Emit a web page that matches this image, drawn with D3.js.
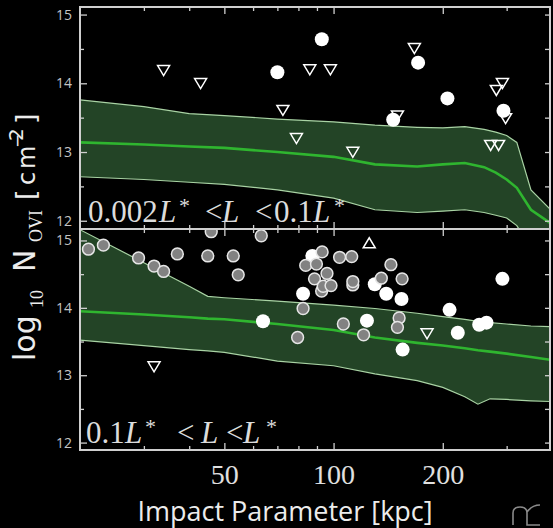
<!DOCTYPE html>
<html>
<head>
<meta charset="utf-8">
<script src="https://cdn.jsdelivr.net/npm/d3@7"></script>
<style>
    html, body { margin: 0; padding: 0; background: #000; }
    svg { display: block; }
</style>
</head>
<body>
<svg id="chart" width="553" height="528"></svg>
<script>
// impact parameter ticks (kpc)
const majorTicks = [50, 100, 200];
const minorTicks = [30, 40, 60, 70, 80, 90, 300];

// model band, 0.002L* < L < 0.1L*
const topBandKpc = [20, 30, 40, 50, 70, 100, 130, 170, 200, 230, 260, 280, 300, 320, 350, 395];
const topUpper  = [13.76, 13.66, 13.56, 13.53, 13.48, 13.44, 13.39, 13.36, 13.35, 13.37, 13.33, 13.29, 13.24, 13.14, 12.45, 12.17];
const topMedian = [13.14, 13.11, 13.08, 13.06, 13.00, 12.93, 12.82, 12.79, 12.82, 12.84, 12.78, 12.70, 12.60, 12.48, 12.16, 11.97];
const topLower  = [12.64, 12.60, 12.56, 12.53, 12.45, 12.33, 12.16, 12.12, 12.14, 12.16, 12.12, 12.08, 12.04, 11.93, 11.60, 11.30];

// model band, 0.1L* < L < L*
const botBandKpc = [20, 30, 40, 45, 50, 70, 100, 130, 170, 200, 230, 250, 270, 300, 350, 395];
const botUpper  = [15.16, 14.67, 14.32, 14.17, 14.15, 14.10, 14.04, 13.99, 13.92, 13.87, 13.83, 13.80, 13.78, 13.76, 13.73, 13.72];
const botMedian = [13.95, 13.90, 13.86, 13.84, 13.83, 13.76, 13.67, 13.56, 13.48, 13.44, 13.40, 13.37, 13.35, 13.32, 13.27, 13.23];
const botLower  = [13.52, 13.44, 13.38, 13.36, 13.34, 13.21, 13.14, 13.02, 12.92, 12.82, 12.68, 12.57, 12.65, 12.64, 12.62, 12.61];

// observations, top panel
const topDetKpc = [70, 92.8, 171, 146, 206, 294];
const topDetN   = [14.16, 14.64, 14.30, 13.47, 13.78, 13.60];
const topUlKpc  = [34, 43, 72.5, 86, 98, 79, 113, 167, 150, 292, 281, 298, 271, 285];
const topUlN    = [14.20, 14.01, 13.62, 14.21, 14.21, 13.21, 13.01, 14.52, 13.54, 14.01, 13.91, 13.50, 13.11, 13.11];

// observations, bottom panel
const botWhiteKpc = [87.4, 82.4, 129.9, 139.7, 153.9, 123.6, 208.8, 220, 252, 264, 292, 155, 63.9];
const botWhiteN   = [14.77, 14.21, 14.35, 14.21, 14.13, 13.81, 13.97, 13.63, 13.75, 13.78, 14.43, 13.38, 13.80];
const botGrayKpc = [21.1, 23.2, 29.0, 32.0, 34.0, 37.1, 46.0, 45.0, 52.9, 54.6, 63.2, 93.0, 83.8, 89.7, 88.6, 95.9,
                    92.7, 93.6, 98.4, 103.9, 112.2, 113, 113, 135.4, 143.9, 154.5, 82.4, 79.6, 106.4, 121, 151.6, 150];
const botGrayN   = [14.87, 14.93, 14.74, 14.62, 14.54, 14.80, 15.13, 14.77, 14.77, 14.49, 15.07, 14.83, 14.63, 14.65, 14.43, 14.51,
                    14.25, 14.32, 14.33, 14.75, 14.76, 14.34, 14.39, 14.44, 14.64, 14.43, 13.99, 13.56, 13.76, 13.60, 13.85, 13.71];
const botLlKpc = [125.4];
const botLlN   = [14.95];
const botUlKpc = [32, 181];
const botUlN   = [13.14, 13.63];

const zip = (a, b) => a.map((v, i) => ({b: v, n: b[i]}));

const svg = d3.select("#chart");
const left = 80, right = 550;

const x = d3.scaleLog().domain([20, 395]).range([left, right]);

// label pieces: text, x position, kind (i = italic L, s = superscript star)
const panels = [
    {
        id: "top", y0: 7, y1: 229, dom: [11.88, 15.11],
        band: {kpc: topBandKpc, up: topUpper, med: topMedian, lo: topLower},
        white: zip(topDetKpc, topDetN), gray: [],
        ul: zip(topUlKpc, topUlN), ll: [],
        label: [["0.002", 88, ""], ["L", 159, "i"], ["*", 179, "s"], ["<", 205, ""], ["L", 222, "i"],
                ["<", 255, ""], ["0.1", 274, ""], ["L", 313, "i"], ["*", 334, "s"]]
    },
    {
        id: "bot", y0: 229, y1: 450, dom: [11.89, 15.17],
        band: {kpc: botBandKpc, up: botUpper, med: botMedian, lo: botLower},
        white: zip(botWhiteKpc, botWhiteN), gray: zip(botGrayKpc, botGrayN),
        ul: zip(botUlKpc, botUlN), ll: zip(botLlKpc, botLlN),
        label: [["0.1", 86, ""], ["L", 125, "i"], ["*", 145, "s"], ["<", 177, ""], ["L", 201, "i"],
                ["<", 226, ""], ["L", 243, "i"], ["*", 266, "s"]]
    }
];

const axisColor = "#cfcfcf";
const triDown = "M-6,-4L6,-4L0,6Z";
const triUp = "M-6,4L6,4L0,-6Z";

panels.forEach(p => {
    const y = d3.scaleLinear().domain(p.dom).range([p.y1, p.y0]);
    const g = svg.append("g").attr("class", "panel-" + p.id);

    g.append("clipPath").attr("id", "clip-" + p.id)
        .append("rect")
        .attr("x", left).attr("y", p.y0)
        .attr("width", right - left).attr("height", p.y1 - p.y0);

    const plot = g.append("g").attr("clip-path", `url(#clip-${p.id})`);

    const bandData = p.band.kpc.map((k, i) => ({k, up: p.band.up[i], med: p.band.med[i], lo: p.band.lo[i]}));

    plot.append("path")
        .datum(bandData)
        .attr("fill", "#234426")
        .attr("d", d3.area().x(d => x(d.k)).y0(d => y(d.lo)).y1(d => y(d.up)));

    ["up", "lo"].forEach(key => {
        plot.append("path")
            .datum(bandData)
            .attr("fill", "none")
            .attr("stroke", "#a9d3a4")
            .attr("stroke-width", 1.2)
            .attr("d", d3.line().x(d => x(d.k)).y(d => y(d[key])));
    });

    plot.append("path")
        .datum(bandData)
        .attr("fill", "none")
        .attr("stroke", "#2fb52f")
        .attr("stroke-width", 2.6)
        .attr("d", d3.line().x(d => x(d.k)).y(d => y(d.med)));

    // detections
    plot.selectAll("circle.white")
        .data(p.white)
        .join("circle")
        .attr("class", "white")
        .attr("cx", d => x(d.b)).attr("cy", d => y(d.n))
        .attr("r", 7)
        .attr("fill", "#fff");

    plot.selectAll("circle.gray")
        .data(p.gray)
        .join("circle")
        .attr("class", "gray")
        .attr("cx", d => x(d.b)).attr("cy", d => y(d.n))
        .attr("r", 5.9)
        .attr("fill", "#828282")
        .attr("stroke", "#e6e6e6")
        .attr("stroke-width", 1.5);

    // limits
    plot.selectAll("path.ul")
        .data(p.ul)
        .join("path")
        .attr("class", "ul")
        .attr("transform", d => `translate(${x(d.b)},${y(d.n)})`)
        .attr("d", triDown)
        .attr("fill", "none")
        .attr("stroke", "#fff")
        .attr("stroke-width", 1.5);

    plot.selectAll("path.ll")
        .data(p.ll)
        .join("path")
        .attr("class", "ll")
        .attr("transform", d => `translate(${x(d.b)},${y(d.n)})`)
        .attr("d", triUp)
        .attr("fill", "none")
        .attr("stroke", "#fff")
        .attr("stroke-width", 1.5);

    // axes, ticks pointing inward
    const styleAxis = sel => {
        sel.select(".domain").remove();
        sel.selectAll("line").attr("stroke", axisColor).attr("stroke-width", 1.3);
        sel.selectAll("text").attr("fill", "#c4c4c4");
    };

    g.append("g").attr("transform", `translate(${left},0)`)
        .call(d3.axisLeft(y).tickValues([12, 13, 14, 15]).tickSize(-7).tickPadding(8).tickFormat(d3.format("d")))
        .call(styleAxis)
        .selectAll("text").attr("font-family", "Open Sans, sans-serif").attr("font-size", 14);

    g.append("g").attr("transform", `translate(${left},0)`)
        .call(d3.axisLeft(y).tickValues([12.5, 13.5, 14.5]).tickSize(-4).tickFormat(""))
        .call(styleAxis);

    g.append("g").attr("transform", `translate(${right},0)`)
        .call(d3.axisRight(y).tickValues([12, 12.5, 13, 13.5, 14, 14.5, 15]).tickSize(-5).tickFormat(""))
        .call(styleAxis);

    g.append("g").attr("transform", `translate(0,${p.y0})`)
        .call(d3.axisTop(x).tickValues(majorTicks).tickSize(-7).tickFormat(""))
        .call(styleAxis);
    g.append("g").attr("transform", `translate(0,${p.y0})`)
        .call(d3.axisTop(x).tickValues(minorTicks).tickSize(-4).tickFormat(""))
        .call(styleAxis);

    const bottomAxis = g.append("g").attr("transform", `translate(0,${p.y1})`)
        .call(d3.axisBottom(x).tickValues(majorTicks).tickSize(-7).tickPadding(14)
            .tickFormat(p.id === "bot" ? d3.format("d") : ""))
        .call(styleAxis);
    bottomAxis.selectAll("text")
        .attr("font-family", "Liberation Serif, serif")
        .attr("font-size", 28)
        .attr("fill", "#e0e0e0");
    g.append("g").attr("transform", `translate(0,${p.y1})`)
        .call(d3.axisBottom(x).tickValues(minorTicks).tickSize(-4).tickFormat(""))
        .call(styleAxis);

    // frame
    g.append("rect")
        .attr("x", left).attr("y", p.y0)
        .attr("width", right - left).attr("height", p.y1 - p.y0)
        .attr("fill", "none")
        .attr("stroke", axisColor)
        .attr("stroke-width", 2);

    // luminosity range label
    const base = p.y1 - 7;
    const lab = g.append("text")
        .attr("font-family", "Liberation Serif, serif")
        .attr("font-size", 31)
        .attr("fill", "#dcdcdc");
    p.label.forEach(([t, px, k]) => {
        const ts = lab.append("tspan").attr("x", px).attr("y", base).text(t);
        if (k === "i") ts.attr("font-style", "italic");
        if (k === "s") ts.attr("font-size", 22).attr("y", base - 9);
    });
});

// y axis title, pieces placed along the rotated baseline
const yTitle = svg.append("text")
    .attr("transform", "translate(35,0) rotate(-90)")
    .attr("fill", "#ececec")
    .attr("font-family", "DejaVu Sans, sans-serif")
    .attr("font-size", 30);
const sub = {"font-family": "Liberation Serif, serif", "font-size": 18};
[
    ["log", 361, 0, {}],
    ["10", 308, 8, sub],
    ["N", 272, 0, {}],
    ["OVI", 242, 7, sub],
    ["[", 200, 0, {"font-size": 27}],
    ["c", 185, 0, {"font-size": 24}],
    ["m", 169, 0, {"font-size": 24}],
    ["−", 148, -12, {"font-size": 17}],
    ["2", 141, -12, {"font-size": 20}],
    ["]", 124, 0, {"font-size": 27}]
].forEach(([t, yy, shift, attrs]) => {
    const ts = yTitle.append("tspan").attr("x", -yy).attr("y", shift).text(t);
    Object.entries(attrs).forEach(([k, v]) => ts.attr(k, v));
});

// x axis title
svg.append("text")
    .attr("x", 285)
    .attr("y", 521)
    .attr("text-anchor", "middle")
    .attr("fill", "#ececec")
    .attr("font-family", "Open Sans, sans-serif")
    .attr("font-size", 27)
    .text("Impact Parameter [kpc]");

// watermark
svg.append("path")
    .attr("d", "M513,525V513Q513,507 520,507Q527,507 527,513V525H540M527,512Q532,505 540,505")
    .attr("fill", "none")
    .attr("stroke", "#8a8a8a")
    .attr("stroke-width", 1.6);
</script>
</body>
</html>
